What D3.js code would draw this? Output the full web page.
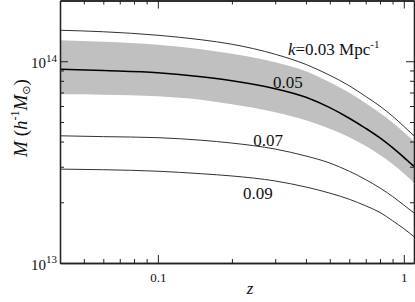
<!DOCTYPE html>
<html lang="en">
<head>
<meta charset="utf-8" />
<title>M vs z</title>
<script src="https://d3js.org/d3.v7.min.js"></script>
<style>
    body { margin: 0; background: #fff; }
    svg { display: block; }
    svg text { font-family: "Liberation Serif", "Times New Roman", Times, serif; fill: #111; }
    .axis path, .axis line { stroke: #222; }
</style>
</head>
<body>
<script>
// redshift grid
const zVals = [0.04, 0.06, 0.1, 0.15, 0.2, 0.3, 0.4, 0.5, 0.6, 0.7, 0.8, 0.9, 1.0, 1.1];
// mass in units of 1e14 h^-1 Msun
const mK003 = [1.424, 1.400, 1.345, 1.278, 1.214, 1.083, 0.964, 0.852, 0.756, 0.669, 0.599, 0.534, 0.476, 0.427];
const mK005 = [0.913, 0.899, 0.877, 0.838, 0.801, 0.731, 0.663, 0.589, 0.522, 0.465, 0.417, 0.373, 0.334, 0.301];
const bandHi = [1.270, 1.249, 1.207, 1.147, 1.089, 0.989, 0.892, 0.787, 0.698, 0.620, 0.554, 0.497, 0.445, 0.401];
const bandLo = [0.686, 0.683, 0.671, 0.645, 0.612, 0.559, 0.510, 0.463, 0.420, 0.380, 0.343, 0.3095, 0.2777, 0.2497];
const mK007 = [0.427, 0.423, 0.418, 0.406, 0.393, 0.367, 0.339, 0.313, 0.285, 0.259, 0.2353, 0.2137, 0.1937, 0.177];
const mK009 = [0.292, 0.290, 0.285, 0.277, 0.270, 0.255, 0.238, 0.222, 0.207, 0.192, 0.178, 0.162, 0.148, 0.135];

// ticks
const xMajor = [0.1, 1];
const xMinor = [0.05, 0.06, 0.07, 0.08, 0.09, 0.2, 0.3, 0.4, 0.5, 0.6, 0.7, 0.8, 0.9];
const yMajor = [1e13, 1e14];
const yMinor = [2e13, 3e13, 4e13, 5e13, 6e13, 7e13, 8e13, 9e13];

const W = 415, H = 302;
const pLeft = 60, pRight = 414, pTop = 0.5, pBottom = 263;
const serif = "Liberation Serif";

const svg = d3.select("body").append("svg").attr("width", W).attr("height", H);

const x = d3.scaleLog().domain([0.04, 1.1]).range([pLeft, pRight]);
const y = d3.scaleLog().domain([1e13, 2e14]).range([pBottom, pTop]);

const pts = (arr) => zVals.map((z, i) => [z, arr[i] * 1e14]);

// shaded band around k = 0.05
const area = d3.area()
    .x(d => x(d[0]))
    .y0(d => y(d[1]))
    .y1(d => y(d[2]))
    .curve(d3.curveMonotoneX);
svg.append("path")
    .datum(zVals.map((z, i) => [z, bandLo[i] * 1e14, bandHi[i] * 1e14]))
    .attr("d", area)
    .attr("fill", "#c0c0c0");

const line = d3.line()
    .x(d => x(d[0]))
    .y(d => y(d[1]))
    .curve(d3.curveMonotoneX);

[[mK003, 1, "#333"], [mK007, 1, "#333"], [mK009, 1, "#333"], [mK005, 1.6, "#000"]].forEach(c => {
    svg.append("path")
        .datum(pts(c[0]))
        .attr("d", line)
        .attr("fill", "none")
        .attr("stroke", c[2])
        .attr("stroke-width", c[1]);
});

// axes, all ticks pointing inward
function addAxis(gen, tx, ty, vals, size, labels) {
    const g = svg.append("g")
        .attr("class", "axis")
        .attr("transform", `translate(${tx},${ty})`)
        .call(gen.tickValues(vals).tickSize(size).tickSizeOuter(0)
            .tickFormat(labels ? null : ""));
    g.attr("font-family", serif);
    g.selectAll("line").attr("stroke-width", 1);
    g.select(".domain").attr("stroke-width", 1.3);
    return g;
}

addAxis(d3.axisBottom(x), 0, pBottom, xMinor, -4, false);
const xb = addAxis(d3.axisBottom(x), 0, pBottom, xMajor, -8, true);
xb.call(a => a.selectAll(".tick text")
    .text(d => d === 1 ? "1" : "0.1")
    .attr("font-family", serif)
    .attr("font-size", 13)
    .attr("y", 10));
addAxis(d3.axisTop(x), 0, pTop, xMinor, -4, false);
addAxis(d3.axisTop(x), 0, pTop, xMajor, -8, false);

addAxis(d3.axisLeft(y), pLeft, 0, yMinor, -4, false);
const yl = addAxis(d3.axisLeft(y), pLeft, 0, yMajor, -8, true);
yl.selectAll(".tick text").each(function(d) {
    const t = d3.select(this).text(null)
        .attr("x", -3).attr("dy", "0.4em")
        .attr("font-family", serif)
        .attr("font-size", 15).attr("text-anchor", "end");
    t.append("tspan").text("10");
    t.append("tspan").text(Math.round(Math.log10(d)))
        .attr("font-size", 11).attr("dy", "-0.55em");
});
addAxis(d3.axisRight(y), pRight, 0, yMinor, -4, false);
addAxis(d3.axisRight(y), pRight, 0, yMajor, -8, false);

// axis titles
svg.append("text")
    .attr("x", 250)
    .attr("y", 294)
    .attr("text-anchor", "middle")
    .attr("font-family", serif)
    .attr("font-size", 17)
    .attr("font-style", "italic")
    .text("z");

const yt = svg.append("text")
    .attr("transform", "translate(27,118) rotate(-90)")
    .attr("text-anchor", "middle")
    .attr("font-family", serif)
    .attr("font-size", 19);
yt.append("tspan").attr("font-style", "italic").text("M");
yt.append("tspan").text(" (");
yt.append("tspan").attr("font-style", "italic").text("h");
yt.append("tspan").attr("font-size", 12).attr("dy", -8).text("-1");
yt.append("tspan").attr("font-style", "italic").attr("dy", 8).text("M");
yt.append("tspan").attr("font-size", 11).attr("dy", 3).attr("font-family", "DejaVu Sans").text("\u2299");
yt.append("tspan").attr("dy", -3).text(")");

// curve labels
const labels = [
    { z: 0.338, m: 1.07e14, parts: [["k", true], ["=0.03 Mpc", false]], sup: "-1" },
    { z: 0.294, m: 0.735e14, parts: [["0.05", false]] },
    { z: 0.244, m: 0.380e14, parts: [["0.07", false]] },
    { z: 0.222, m: 0.207e14, parts: [["0.09", false]] }
];
labels.forEach(l => {
    const t = svg.append("text")
        .attr("x", x(l.z))
        .attr("y", y(l.m))
        .attr("font-family", serif)
        .attr("font-size", 17);
    l.parts.forEach(p => t.append("tspan").attr("font-style", p[1] ? "italic" : null).text(p[0]));
    if (l.sup) t.append("tspan").attr("font-size", 11).attr("dy", -7).text(l.sup);
});
</script>
</body>
</html>
